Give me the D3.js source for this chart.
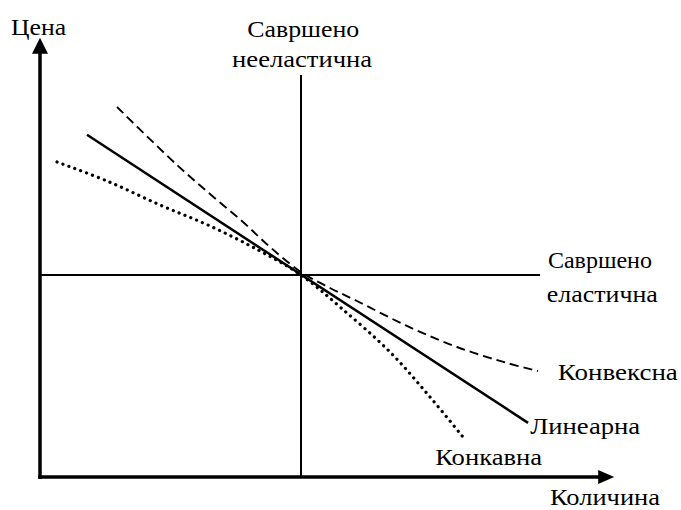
<!DOCTYPE html>
<html>
<head>
<meta charset="utf-8">
<script src="https://cdn.jsdelivr.net/npm/d3@7"></script>
<style>
  html, body { margin: 0; padding: 0; background: #fff; }
  svg { display: block; }
</style>
</head>
<body>
<svg id="chart" width="681" height="510"></svg>
<script>
// ---- data (quantity, price) in abstract units 0..100 ----
const linearQ = [9.0, 93.5];
const linearP = [84.7, 13.4];

const convexQ = [14.75, 26.25, 32.57, 38.89, 44.06, 50.0, 55.56, 60.73, 70.31, 79.89, 89.46, 95.40];
const convexP = [91.58, 77.23, 70.05, 63.12, 56.93, 50.74, 46.78, 43.56, 37.38, 32.18, 28.22, 26.24];

const concaveQ = [3.26, 12.84, 22.99, 32.57, 42.15, 50.0, 57.47, 67.05, 74.71, 81.03];
const concaveP = [77.97, 73.27, 67.33, 62.13, 55.94, 50.0, 42.08, 30.94, 19.80, 9.90];

const perfectInelasticQ = 50;     // vertical line
const perfectInelasticP = [0, 99.5];
const perfectElasticP = 50;       // horizontal line
const perfectElasticQ = [0, 95.8];

const axisMaxQ = 110;
const axisMaxP = 108.7;

const labels = [
  { lines: ["Цена"], q: -5.55, p: 109.4, w: [55] },
  { lines: ["Савршено", "нееластична"], q: [39.7, 36.8], p: [108.9, 101.5], w: [112, 140] },
  { lines: ["Савршено", "еластична"], q: [97.3, 97.1], p: [51.7, 43.3], w: [104, 111] },
  { lines: ["Конвексна"], q: 99.2, p: 24.0, w: [120] },
  { lines: ["Линеарна"], q: 93.9, p: 10.6, w: [110] },
  { lines: ["Конкавна"], q: 75.7, p: 2.97, w: [107] },
  { lines: ["Количина"], q: 97.7, p: -6.9, w: [110] }
];

// ---- scales ----
const x = d3.scaleLinear().domain([0, 100]).range([40, 562]);
const y = d3.scaleLinear().domain([0, 100]).range([477, 73]);

const svg = d3.select("#chart");

const line = d3.line().x(d => x(d[0])).y(d => y(d[1]));
const curve = d3.line().x(d => x(d[0])).y(d => y(d[1])).curve(d3.curveCatmullRom.alpha(0.5));

// perfectly inelastic (vertical)
svg.append("line")
  .attr("x1", x(perfectInelasticQ)).attr("x2", x(perfectInelasticQ))
  .attr("y1", y(perfectInelasticP[0])).attr("y2", y(perfectInelasticP[1]))
  .attr("stroke", "#000").attr("stroke-width", 2);

// perfectly elastic (horizontal)
svg.append("line")
  .attr("x1", x(perfectElasticQ[0])).attr("x2", x(perfectElasticQ[1]))
  .attr("y1", y(perfectElasticP)).attr("y2", y(perfectElasticP))
  .attr("stroke", "#000").attr("stroke-width", 2);

// linear
svg.append("path")
  .attr("d", line(linearQ.map((q, i) => [q, linearP[i]])))
  .attr("fill", "none").attr("stroke", "#000").attr("stroke-width", 2.5);

// convex (dashed)
svg.append("path")
  .attr("d", curve(convexQ.map((q, i) => [q, convexP[i]])))
  .attr("fill", "none").attr("stroke", "#000").attr("stroke-width", 1.9)
  .attr("stroke-dasharray", "9,5");

// concave (dotted)
svg.append("path")
  .attr("d", curve(concaveQ.map((q, i) => [q, concaveP[i]])))
  .attr("fill", "none").attr("stroke", "#000").attr("stroke-width", 3.2)
  .attr("stroke-linecap", "round")
  .attr("stroke-dasharray", "0.1,6.2");

// axes
const x0 = x(0), y0 = y(0);
const xTip = x(axisMaxQ), yTip = y(axisMaxP);
svg.append("line")
  .attr("x1", x0).attr("x2", x0).attr("y1", y0 + 2).attr("y2", yTip + 12)
  .attr("stroke", "#000").attr("stroke-width", 3.5);
svg.append("line")
  .attr("x1", x0 - 1.75).attr("x2", xTip - 12).attr("y1", y0).attr("y2", y0)
  .attr("stroke", "#000").attr("stroke-width", 3.5);
svg.append("path")
  .attr("d", `M${x0},${yTip} L${x0 - 8},${yTip + 16} L${x0 + 8},${yTip + 16} Z`)
  .attr("fill", "#000");
svg.append("path")
  .attr("d", `M${xTip},${y0} L${xTip - 16},${y0 - 7} L${xTip - 16},${y0 + 7} Z`)
  .attr("fill", "#000");

// labels
labels.forEach(l => {
  l.lines.forEach((t, i) => {
    const q = Array.isArray(l.q) ? l.q[i] : l.q;
    const p = Array.isArray(l.p) ? l.p[i] : l.p;
    svg.append("text")
      .attr("x", x(q)).attr("y", y(p))
      .attr("font-family", "'Liberation Serif', 'Times New Roman', serif")
      .attr("font-size", 24)
      .attr("fill", "#000")
      .attr("textLength", l.w[i])
      .attr("lengthAdjust", "spacingAndGlyphs")
      .text(t);
  });
});
</script>
</body>
</html>
